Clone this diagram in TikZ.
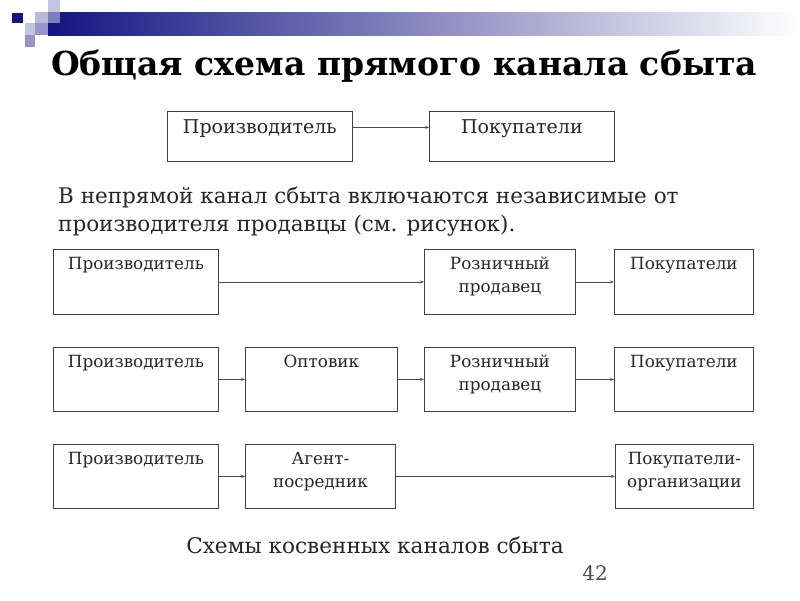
\documentclass[tikz,border=0pt]{standalone}
\usepackage{fontspec}
\setmainfont{DejaVu Serif}
\usetikzlibrary{arrows.meta}
\definecolor{navy}{RGB}{20,20,130}
\tikzset{
  box/.style={draw=black!75, line width=0.8pt, fill=white, inner sep=0pt, anchor=north west},
  lab/.style={anchor=north, inner sep=0pt, align=center, font=\fontsize{16.8}{23}\selectfont, text=black!85},
  toplab/.style={lab, font=\fontsize{19}{23}\selectfont},
  arr/.style={draw=black!70, line width=0.7pt, -{Stealth[length=4pt,width=3pt]}},
}
\begin{document}
\begin{tikzpicture}[x=1pt,y=-1pt]
\useasboundingbox (0,0) rectangle (800,600);
\fill[white] (0,0) rectangle (800,600);
% header decoration
\shade[left color=navy, right color=white, shading angle=90] (48,12) rectangle (800,35);
\fill[navy!25] (48,0) rectangle (60,12);
\fill[navy!30] (35,12) rectangle (48,23);
\fill[navy!55] (48,12) rectangle (60,23);
\fill[navy!25] (25,23) rectangle (35,35);
\fill[navy!45] (35,23) rectangle (48,35);
\fill[navy!45] (25,35) rectangle (35,47);
\fill[navy] (12,13) rectangle (23,23);
% title
\node[font=\fontsize{33}{36}\selectfont\bfseries] (title) at (404,66) {Общая схема прямого канала сбыта};
% direct channel
\node[box, minimum width=185, minimum height=50, label={[toplab, yshift=-8pt]north:Производитель}] (d1) at (167,111) {};
\node[box, minimum width=185, minimum height=50, label={[toplab, yshift=-8pt]north:Покупатели}] (d2) at (429,111) {};
\draw[arr] ([yshift=9pt]d1.east) -- ([yshift=9pt]d2.west);
% paragraph
\node[anchor=north west, inner sep=0pt, align=left, font=\fontsize{21.5}{28}\selectfont, text=black!85] (para) at (58,187)
  {В непрямой канал сбыта включаются независимые от\\производителя продавцы (см. рисунок).};
% row 1
\node[box, minimum width=165, minimum height=65, label={[lab, yshift=-8pt]north:Производитель}] (a1) at (53,249) {};
\node[box, minimum width=151, minimum height=65, label={[lab, yshift=-8pt]north:Розничный\\продавец}] (c1) at (424,249) {};
\node[box, minimum width=139, minimum height=65, label={[lab, yshift=-8pt]north:Покупатели}] (e1) at (614,249) {};
\draw[arr] (a1.east) -- (c1.west);
\draw[arr] (c1.east) -- (e1.west);
% row 2
\node[box, minimum width=165, minimum height=64, label={[lab, yshift=-8pt]north:Производитель}] (a2) at (53,347) {};
\node[box, minimum width=152, minimum height=64, label={[lab, yshift=-8pt]north:Оптовик}] (b2) at (245,347) {};
\node[box, minimum width=151, minimum height=64, label={[lab, yshift=-8pt]north:Розничный\\продавец}] (c2) at (424,347) {};
\node[box, minimum width=139, minimum height=64, label={[lab, yshift=-8pt]north:Покупатели}] (e2) at (614,347) {};
\draw[arr] (a2.east) -- (b2.west);
\draw[arr] (b2.east) -- (c2.west);
\draw[arr] (c2.east) -- (e2.west);
% row 3
\node[box, minimum width=165, minimum height=64, label={[lab, yshift=-8pt]north:Производитель}] (a3) at (53,444) {};
\node[box, minimum width=150, minimum height=64, label={[lab, yshift=-8pt]north:Агент-\\посредник}] (b3) at (245,444) {};
\node[box, minimum width=138, minimum height=64, label={[lab, yshift=-8pt]north:Покупатели-\\организации}] (e3) at (615,444) {};
\draw[arr] (a3.east) -- (b3.west);
\draw[arr] (b3.east) -- (e3.west);
% caption
\node[font=\fontsize{21.6}{24}\selectfont, text=black!85] (cap) at (375,545) {Схемы косвенных каналов сбыта};
\node[font=\fontsize{20}{24}\selectfont, text=black!70] (num) at (595,573) {42};
\end{tikzpicture}
\end{document}
